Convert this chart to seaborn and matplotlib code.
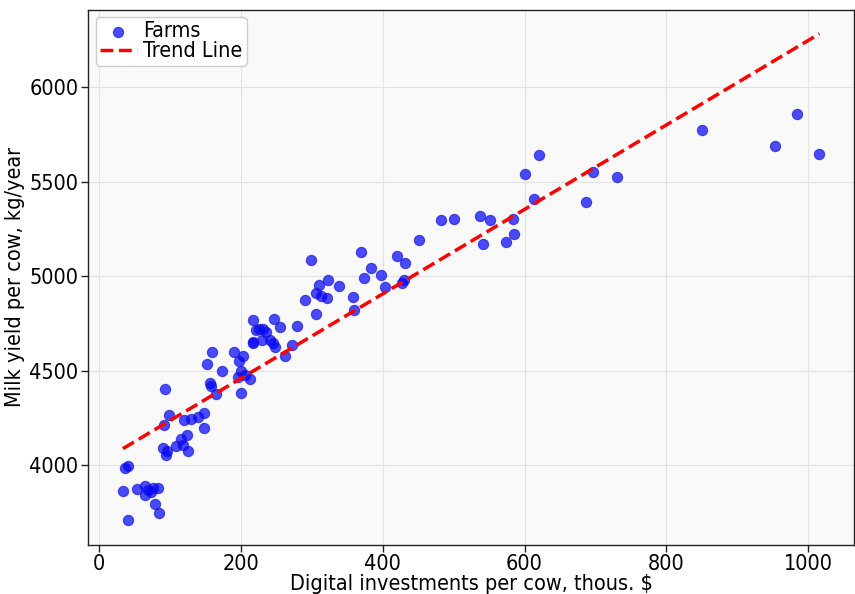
import numpy as np
import pandas as pd
import seaborn as sns
import matplotlib.pyplot as plt

# ===== data =====
invest = [37.0, 41.6, 33.8, 53.4, 65.1, 64.7, 69.8, 73.6, 76.4, 83.8,
          79.2, 84.8, 41.6, 98.9, 92.3, 120.4, 129.8, 139.2, 147.7, 147.7,
          124.6, 115.8, 119.0, 108.3, 126.0, 90.9, 96.1, 94.7, 93.3, 158.9,
          152.7, 173.8, 190.3, 202.5, 196.9, 217.4, 199.7, 195.5, 205.8, 212.8,
          156.5, 157.5, 165.0, 199.7, 217.4, 247.0, 255.0, 221.2, 225.9, 231.5,
          235.3, 217.4, 230.1, 240.9, 244.7, 248.4, 271.5, 263.0, 279.9, 298.6,
          369.9, 384.0, 373.6, 322.9, 309.9, 338.4, 306.6, 313.6, 321.5, 290.2,
          358.1, 306.6, 360.1, 398.0, 420.5, 430.8, 451.9, 403.1, 426.6, 430.4,
          482.8, 501.1, 537.7, 550.8, 583.7, 541.0, 573.3, 584.5, 600.0, 613.2,
          619.7, 696.2, 730.4, 687.2, 850.4, 952.6, 984.0, 1015.5]
milk = [3987, 3996, 3862, 3874, 3888, 3844, 3869, 3858, 3877, 3878,
        3796, 3746, 3707, 4266, 4213, 4239, 4245, 4252, 4274, 4198,
        4160, 4138, 4106, 4101, 4076, 4092, 4073, 4052, 4402, 4597,
        4535, 4500, 4597, 4580, 4549, 4647, 4500, 4466, 4475, 4455,
        4434, 4420, 4376, 4381, 4766, 4771, 4732, 4714, 4721, 4718,
        4704, 4652, 4665, 4660, 4647, 4626, 4638, 4576, 4739, 5085,
        5131, 5046, 4993, 4979, 4954, 4948, 4913, 4895, 4886, 4874,
        4890, 4800, 4819, 5005, 5106, 5072, 5192, 4943, 4966, 4979,
        5300, 5301, 5321, 5298, 5305, 5173, 5181, 5223, 5543, 5410,
        5640, 5551, 5527, 5395, 5774, 5689, 5862, 5649]

df = pd.DataFrame({"invest": invest, "milk": milk})

# ===== linear trend =====
slope, intercept = np.polyfit(df.invest, df.milk, 1)
trend = pd.DataFrame({"invest": [df.invest.min(), df.invest.max()]})
trend["milk"] = intercept + slope * trend.invest

sns.set_style("whitegrid")
plt.rcParams["font.family"] = ["DejaVu Sans"]
plt.rcParams["font.stretch"] = "condensed"
plt.rcParams["text.color"] = "black"
plt.rcParams["axes.labelcolor"] = "black"
plt.rcParams["xtick.color"] = "black"
plt.rcParams["ytick.color"] = "black"

fig, ax = plt.subplots(figsize=(8.55, 5.94), dpi=100)
fig.subplots_adjust(left=0.103, right=0.999, top=0.984, bottom=0.083)
ax.set_facecolor("#f9f9f9")

sns.scatterplot(ax=ax, x="invest", y="milk", data=df, color="blue", alpha=0.7,
                s=55, edgecolor="#1a1acc", linewidth=0.8, label="Farms")
sns.lineplot(ax=ax, x="invest", y="milk", data=trend, color="red",
             linestyle="--", linewidth=2.5, label="Trend Line")

ax.grid(color="#e3e3e3", linewidth=0.8)
for sp in ax.spines.values():
    sp.set_color("#222222")
    sp.set_linewidth(1.0)
ax.tick_params(axis="both", labelsize=15.5, length=5, width=1, color="#222222",
               left=True, bottom=True, pad=2)
ax.set_xticks([0, 200, 400, 600, 800, 1000])
ax.set_yticks([4000, 4500, 5000, 5500, 6000])
ax.set_xlabel("Digital investments per cow, thous. $", fontsize=15.5, labelpad=0)
ax.set_ylabel("Milk yield per cow, kg/year", fontsize=15.5, labelpad=3)
ax.legend(loc="upper left", fontsize=15.5, handlelength=1.7, handletextpad=0.3,
          borderpad=0.2, labelspacing=0.0, borderaxespad=0.35,
          frameon=True, framealpha=1.0, edgecolor="#cccccc")

plt.savefig("out.png", dpi=100)
